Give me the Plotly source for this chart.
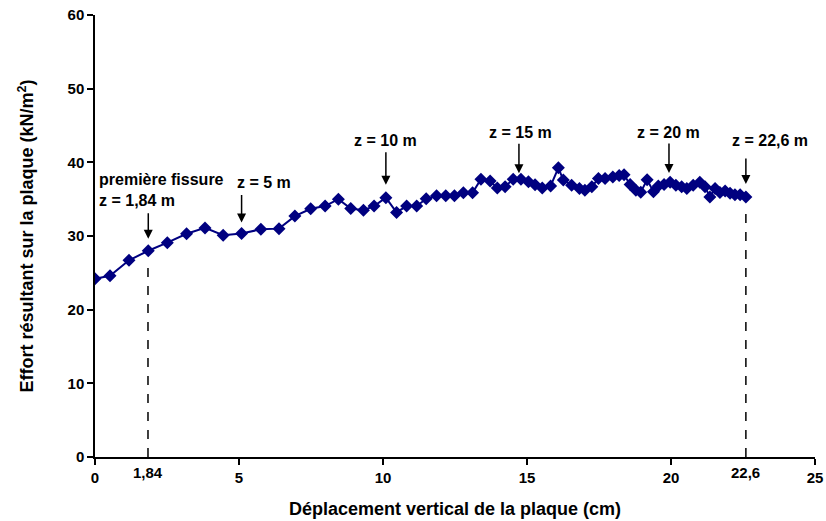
import plotly.graph_objects as go

# Data
displacement_cm = [0, 0.52, 1.18, 1.85, 2.51, 3.18, 3.82, 4.45, 5.09, 5.76, 6.39, 6.94, 7.49, 7.99,
                   8.45, 8.88, 9.32, 9.69, 10.10, 10.47, 10.82, 11.17, 11.5, 11.86, 12.18, 12.48,
                   12.79, 13.11, 13.40, 13.72, 13.97, 14.24, 14.52, 14.79, 15.05, 15.28, 15.53,
                   15.82, 16.09, 16.26, 16.55, 16.82, 17.01, 17.25, 17.48, 17.71, 17.98, 18.2,
                   18.37, 18.58, 18.78, 18.95, 19.17, 19.39, 19.56, 19.76, 19.97, 20.17, 20.37,
                   20.55, 20.77, 21.0, 21.18, 21.35, 21.53, 21.7, 21.88, 22.05, 22.22, 22.4, 22.6]
effort_kn_m2 = [24.2, 24.6, 26.7, 28.0, 29.1, 30.3, 31.1, 30.1, 30.35, 30.9, 31.0, 32.7, 33.7, 34.06,
                35.0, 33.74, 33.5, 34.06, 35.2, 33.2, 34.06, 34.06, 35.05, 35.45, 35.45, 35.45,
                35.86, 35.86, 37.72, 37.45, 36.5, 36.7, 37.7, 37.7, 37.35, 36.95, 36.5,
                36.8, 39.25, 37.6, 36.9, 36.46, 36.2, 36.7, 37.8, 37.8, 38.0, 38.2,
                38.3, 37.0, 36.2, 35.95, 37.65, 36.0, 36.8, 37.0, 37.3, 36.9, 36.7,
                36.46, 36.9, 37.3, 36.7, 35.3, 36.46, 35.9, 36.1, 35.8, 35.6, 35.6, 35.3]

x_tickvals = [0, 5, 10, 15, 20, 25]
y_tickvals = [0, 10, 20, 30, 40, 50, 60]

# Arrow markers
arrow_x = [1.85, 5.09, 10.10, 14.72, 19.93, 22.6]
arrow_y = [28.0, 30.35, 35.2, 37.7, 37.2, 35.3]
arrow_ay = [-39, -40, -47, -37, -41, -40]
arrow_standoff = [12, 11, 13, 6, 10, 13]
label_texts = ["première fissure<br>z = 1,84 m", "z = 5 m", "z = 10 m", "z = 15 m", "z = 20 m", "z = 22,6 m"]
label_x = [0.07, 5.87, 10.1, 14.76, 19.9, 23.44]
label_y = [36.3, 37.2, 42.9, 44.1, 44.1, 43.0]
label_anchor = ["left", "center", "center", "center", "center", "center"]

special_x = [1.84, 22.6]
special_labels = ["1,84", "22,6"]
special_top = [28.0, 35.3]

FONT = "Liberation Sans"
NAVY = "#000080"

fig = go.Figure()
fig.add_trace(go.Scatter(
    x=displacement_cm, y=effort_kn_m2, mode="lines+markers",
    line=dict(color=NAVY, width=2),
    marker=dict(symbol="diamond", size=10, color=NAVY, line=dict(color=NAVY, width=0)),
    showlegend=False, hoverinfo="x+y",
))

shapes = []
for sx, top in zip(special_x, special_top):
    shapes.append(dict(type="line", xref="x", yref="y", x0=sx, x1=sx, y0=0, y1=top - 1.6,
                       line=dict(color="black", width=1.5, dash="dash")))

annotations = []
for ax_, ay_, off, so in zip(arrow_x, arrow_y, arrow_ay, arrow_standoff):
    annotations.append(dict(x=ax_, y=ay_, xref="x", yref="y", text="", showarrow=True,
                            ax=0, ay=off, arrowhead=2, arrowsize=1.2, arrowwidth=1.5,
                            arrowcolor="black", standoff=so))
for t, lx, ly, anc in zip(label_texts, label_x, label_y, label_anchor):
    annotations.append(dict(x=lx, y=ly, xref="x", yref="y", text=t, showarrow=False,
                            xanchor=anc, yanchor="middle", align="left",
                            font=dict(family=FONT, size=16, color="black", weight="bold")))
for sx, sl in zip(special_x, special_labels):
    annotations.append(dict(x=sx, y=0, xref="x", yref="y", text=sl, showarrow=False,
                            xanchor="center", yanchor="top", yshift=-5,
                            font=dict(family=FONT, size=15, color="black", weight="bold")))

fig.update_layout(
    width=826, height=521,
    margin=dict(l=95, r=11, t=15, b=64),
    paper_bgcolor="white", plot_bgcolor="white",
    font=dict(family=FONT, size=15, color="black", weight="bold"),
    shapes=shapes, annotations=annotations,
    xaxis=dict(range=[0, 25], tickvals=x_tickvals, ticktext=[str(v) for v in x_tickvals],
               showgrid=False, zeroline=False, showline=True, linecolor="black", linewidth=1.5,
               ticks="outside", ticklen=6, tickcolor="black", tickwidth=1.5,
               ticklabeloverflow="allow",
               tickfont=dict(family=FONT, size=15, color="black", weight="bold"),
               title=dict(text="Déplacement vertical de la plaque (cm)", standoff=18,
                          font=dict(family=FONT, size=18, color="black", weight="bold")),
               automargin=False),
    yaxis=dict(range=[0, 60], tickvals=y_tickvals,
               showgrid=False, zeroline=False, showline=True, linecolor="black", linewidth=1.5,
               ticks="outside", ticklen=6, tickcolor="black", tickwidth=1.5,
               ticklabeloverflow="allow",
               tickfont=dict(family=FONT, size=15, color="black", weight="bold"),
               title=dict(text="Effort résultant sur la plaque (kN/m<sup>2</sup>)", standoff=29,
                          font=dict(family=FONT, size=18, color="black", weight="bold")),
               automargin=False),
)

fig.write_html("out.html", config={"displayModeBar": False},
               post_script="document.body.style.margin='0';document.body.style.overflow='hidden';")
